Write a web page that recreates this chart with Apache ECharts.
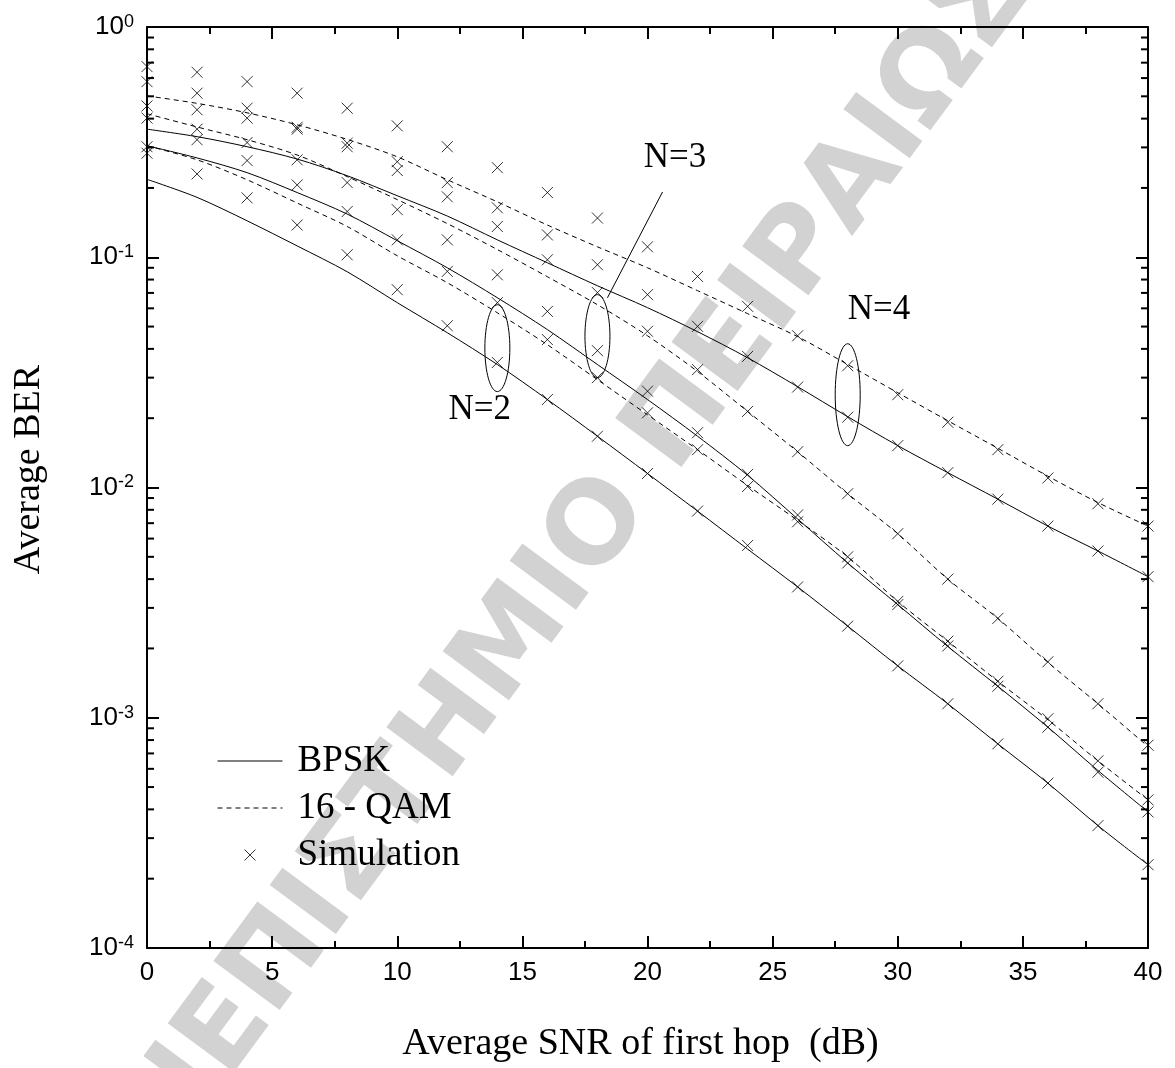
<!DOCTYPE html>
<html>
<head>
<meta charset="utf-8">
<title>Average BER vs average SNR of first hop</title>
<script src="https://cdn.jsdelivr.net/npm/echarts@6/dist/echarts.min.js"></script>
<style>
  html, body { margin: 0; padding: 0; background: #fff; }
  #chart { width: 1175px; height: 1068px; }
</style>
</head>
<body>
<div id="chart"></div>
<script>
// SNR of first hop (dB), one point every 2 dB
const snr = [0, 2, 4, 6, 8, 10, 12, 14, 16, 18, 20, 22, 24, 26, 28, 30, 32, 34, 36, 38, 40];

// Analytical curves (average BER)
const bpskN2 = [0.218, 0.182, 0.144, 0.112, 0.0865, 0.0635, 0.047, 0.0342, 0.0241, 0.0167, 0.0115, 0.0079, 0.0054, 0.0037, 0.0025, 0.00168, 0.00115, 0.00077, 0.00052, 0.00034, 0.00023];
const bpskN3 = [0.305, 0.270, 0.233, 0.191, 0.154, 0.118, 0.090, 0.0667, 0.0485, 0.0342, 0.0241, 0.0167, 0.0113, 0.0073, 0.0047, 0.0031, 0.00204, 0.00137, 0.00091, 0.00059, 0.00039];
const bpskN4 = [0.360, 0.334, 0.302, 0.267, 0.226, 0.185, 0.151, 0.119, 0.0946, 0.0752, 0.0604, 0.0475, 0.0366, 0.0274, 0.0203, 0.0152, 0.0116, 0.0089, 0.0068, 0.0053, 0.0041];
const qamN2 = [0.305, 0.265, 0.217, 0.172, 0.136, 0.1015, 0.0775, 0.0574, 0.0417, 0.0294, 0.0207, 0.0146, 0.0102, 0.0072, 0.0050, 0.0032, 0.00215, 0.00144, 0.00098, 0.00065, 0.00044];
const qamN3 = [0.420, 0.368, 0.324, 0.278, 0.224, 0.178, 0.140, 0.108, 0.0823, 0.0622, 0.0456, 0.0319, 0.0214, 0.0143, 0.0094, 0.0063, 0.0040, 0.0027, 0.00174, 0.00115, 0.00075];
const qamN4 = [0.502, 0.466, 0.424, 0.376, 0.325, 0.273, 0.217, 0.174, 0.138, 0.111, 0.090, 0.0716, 0.0569, 0.0452, 0.0342, 0.0258, 0.0195, 0.0148, 0.0112, 0.0086, 0.0068];

// Simulation points (average BER)
const simBpskN2 = [0.283, 0.230, 0.181, 0.138, 0.1025, 0.0723, 0.0504, 0.0349, 0.0241, 0.0167, 0.0115, 0.0079, 0.0056, 0.0037, 0.0025, 0.00168, 0.00115, 0.00077, 0.00052, 0.00034, 0.00023];
const simBpskN3 = [0.402, 0.360, 0.315, 0.265, 0.211, 0.161, 0.119, 0.0839, 0.0582, 0.0393, 0.0262, 0.0173, 0.0114, 0.0071, 0.0047, 0.0031, 0.00205, 0.00137, 0.00091, 0.00058, 0.00039];
const simBpskN4 = [0.454, 0.437, 0.402, 0.360, 0.313, 0.260, 0.211, 0.164, 0.125, 0.0928, 0.0688, 0.0501, 0.0371, 0.0273, 0.0202, 0.0152, 0.0116, 0.0089, 0.0068, 0.0053, 0.0041];
const simQamN2 = [0.302, 0.324, 0.263, 0.206, 0.158, 0.119, 0.0868, 0.0635, 0.0439, 0.0300, 0.0211, 0.0146, 0.0101, 0.0076, 0.0050, 0.0032, 0.00215, 0.00144, 0.00099, 0.00065, 0.00044];
const simQamN3 = [0.579, 0.516, 0.444, 0.367, 0.302, 0.238, 0.183, 0.136, 0.0975, 0.0702, 0.0477, 0.0325, 0.0214, 0.0143, 0.0094, 0.0063, 0.0040, 0.0027, 0.00175, 0.00115, 0.00076];
const simQamN4 = [0.673, 0.636, 0.579, 0.516, 0.444, 0.372, 0.302, 0.245, 0.191, 0.148, 0.111, 0.0825, 0.0612, 0.0456, 0.0338, 0.0253, 0.0192, 0.0146, 0.0110, 0.0085, 0.0068];

// Legend names
const legendNames = ['BPSK', '16 - QAM', 'Simulation'];

// Group annotations: snr, BER at top and bottom of each ellipse
const groupLabels = ['N=2', 'N=3', 'N=4'];
const groupSpans = [[14, 0.0622, 0.0261], [18, 0.0688, 0.0300], [28, 0.0421, 0.0152]];
const groupLabelAnchors = [[13.3, 0.0218], [21.1, 0.270], [29.25, 0.0592]];
const leaderLine = [[20.6, 0.192], [18.4, 0.0667]];

// minor ticks of the log axis: 2..9 in every decade
const minorMantissas = [2, 3, 4, 5, 6, 7, 8, 9];
const decades = [1e-4, 1e-3, 1e-2, 1e-1];
const minorTickValues = [];
decades.forEach((d) => minorMantissas.forEach((m) => minorTickValues.push(m * d)));

const toPairs = (values) => snr.map((x, i) => [x, values[i]]);

function curve(name, values, dashed) {
  return {
    type: 'line',
    name: name,
    data: toPairs(values),
    symbol: 'none',
    smooth: 0.3,
    silent: true,
    z: 3,
    lineStyle: { color: '#000', width: 1, type: dashed ? [5, 4] : 'solid' },
  };
}

const simPoints = [];
[simBpskN2, simBpskN3, simBpskN4, simQamN2, simQamN3, simQamN4].forEach((set) => {
  set.forEach((v, i) => simPoints.push([snr[i], v]));
});

const serif = '"Liberation Serif", "Times New Roman", serif';
const sans = '"Liberation Sans", Arial, sans-serif';

const tickStyle = { inside: true, length: 12, lineStyle: { color: '#000', width: 2 } };
const axisLineStyle = { show: true, onZero: false, lineStyle: { color: '#000', width: 2 } };

const chart = echarts.init(document.getElementById('chart'), null, { renderer: 'canvas' });

const option = {
  animation: false,
  backgroundColor: '#fff',
  grid: { left: 147, right: 27, top: 27, bottom: 120, outerBoundsMode: 'none' },
  graphic: [
    {
      // faint watermark behind the plot
      type: 'text',
      x: 1008,
      y: -24,
      rotation: 0.934,
      z: -1,
      silent: true,
      style: {
        text: 'ΠΑΝΕΠΙΣΤΗΜΙΟ ΠΕΙΡΑΙΩΣ',
        font: 'bold 113px "DejaVu Sans"',
        fill: '#d2d2d2',
        align: 'right',
        verticalAlign: 'middle',
      },
    },
  ],
  legend: {
    orient: 'vertical',
    left: 217,
    top: 741,
    padding: 0,
    itemWidth: 65,
    itemHeight: 11,
    itemGap: 7,
    selectedMode: false,
    textStyle: { fontFamily: serif, fontSize: 37, color: '#000', lineHeight: 40, padding: [0, 0, 0, 10] },
    data: [
      { name: legendNames[0], itemStyle: { opacity: 0 }, lineStyle: { width: 1 } },
      { name: legendNames[1], itemStyle: { opacity: 0 }, lineStyle: { width: 1 } },
      { name: legendNames[2], itemStyle: { borderWidth: 1 } },
    ],
  },
  xAxis: [
    {
      type: 'value',
      position: 'bottom',
      min: 0,
      max: 40,
      interval: 5,
      axisLine: axisLineStyle,
      axisTick: tickStyle,
      minorTick: { show: true, splitNumber: 2, length: 7, lineStyle: { color: '#000', width: 2 } },
      splitLine: { show: false },
      axisLabel: { fontFamily: sans, fontSize: 26, color: '#000', margin: 12 },
      name: 'Average SNR of first hop  (dB)',
      nameLocation: 'middle',
      nameGap: 77,
      nameTextStyle: { fontFamily: serif, fontSize: 38, color: '#000', padding: [0, 14, 0, 0] },
    },
    {
      type: 'value',
      position: 'top',
      min: 0,
      max: 40,
      interval: 5,
      axisLine: axisLineStyle,
      axisTick: tickStyle,
      minorTick: { show: true, splitNumber: 2, length: 7, lineStyle: { color: '#000', width: 2 } },
      splitLine: { show: false },
      axisLabel: { show: false },
    },
  ],
  yAxis: [
    {
      type: 'log',
      logBase: 10,
      position: 'left',
      min: 1e-4,
      max: 1,
      axisLine: axisLineStyle,
      axisTick: tickStyle,
      splitLine: { show: false },
      axisLabel: {
        margin: 13,
        formatter: (v) => '{b|10}{e|' + Math.round(Math.log10(v)) + '}',
        rich: {
          b: { fontFamily: sans, fontSize: 26, color: '#000', lineHeight: 28 },
          e: { fontFamily: sans, fontSize: 18, color: '#000', verticalAlign: 'top', lineHeight: 28 },
        },
      },
      name: 'Average BER',
      nameLocation: 'middle',
      nameGap: 99,
      nameTextStyle: { fontFamily: serif, fontSize: 38, color: '#000', padding: [0, 0, 0, 36] },
    },
    {
      type: 'log',
      logBase: 10,
      position: 'right',
      min: 1e-4,
      max: 1,
      axisLine: axisLineStyle,
      axisTick: tickStyle,
      splitLine: { show: false },
      axisLabel: { show: false },
    },
  ],
  series: [
    curve('BPSK', bpskN2, false),
    curve('BPSK', bpskN3, false),
    curve('BPSK', bpskN4, false),
    curve('16 - QAM', qamN2, true),
    curve('16 - QAM', qamN3, true),
    curve('16 - QAM', qamN4, true),
    {
      type: 'scatter',
      name: 'Simulation',
      data: simPoints,
      symbol: 'path://M0,0L10,10M10,0L0,10',
      symbolSize: 11,
      symbolKeepAspect: true,
      silent: true,
      z: 4,
      itemStyle: { color: '#000', borderColor: '#000', borderWidth: 1 },
    },
    {
      // leader line from the N=3 label to its ellipse
      type: 'line',
      name: 'leader',
      data: leaderLine,
      symbol: 'none',
      silent: true,
      lineStyle: { color: '#000', width: 1 },
    },
    {
      type: 'custom',
      name: 'groups',
      data: groupSpans,
      encode: { x: 0, y: [1, 2] },
      silent: true,
      z: 5,
      renderItem: (params, api) => {
        const top = api.coord([api.value(0), api.value(1)]);
        const bottom = api.coord([api.value(0), api.value(2)]);
        return {
          type: 'ellipse',
          shape: { cx: top[0], cy: (top[1] + bottom[1]) / 2, rx: 12.5, ry: (bottom[1] - top[1]) / 2 },
          style: { fill: 'none', stroke: '#000', lineWidth: 1 },
        };
      },
    },
    {
      type: 'custom',
      name: 'groupLabels',
      data: groupLabelAnchors,
      silent: true,
      z: 5,
      renderItem: (params, api) => {
        const p = api.coord([api.value(0), api.value(1)]);
        return {
          type: 'text',
          x: p[0],
          y: p[1],
          style: {
            text: groupLabels[params.dataIndex],
            font: '35px ' + serif,
            fill: '#000',
            align: 'center',
            verticalAlign: 'middle',
          },
        };
      },
    },
    {
      // minor ticks on the left and right log axes
      type: 'custom',
      name: 'minorTicks',
      data: minorTickValues.map((v) => [0, v]),
      silent: true,
      clip: false,
      z: 6,
      renderItem: (params, api) => {
        const left = api.coord([0, api.value(1)]);
        const right = api.coord([40, api.value(1)]);
        return {
          type: 'group',
          children: [
            { type: 'line', shape: { x1: left[0], y1: left[1], x2: left[0] + 7, y2: left[1] }, style: { stroke: '#000', lineWidth: 2 } },
            { type: 'line', shape: { x1: right[0] - 7, y1: right[1], x2: right[0], y2: right[1] }, style: { stroke: '#000', lineWidth: 2 } },
          ],
        };
      },
    },
  ],
};

chart.setOption(option);
</script>
</body>
</html>
